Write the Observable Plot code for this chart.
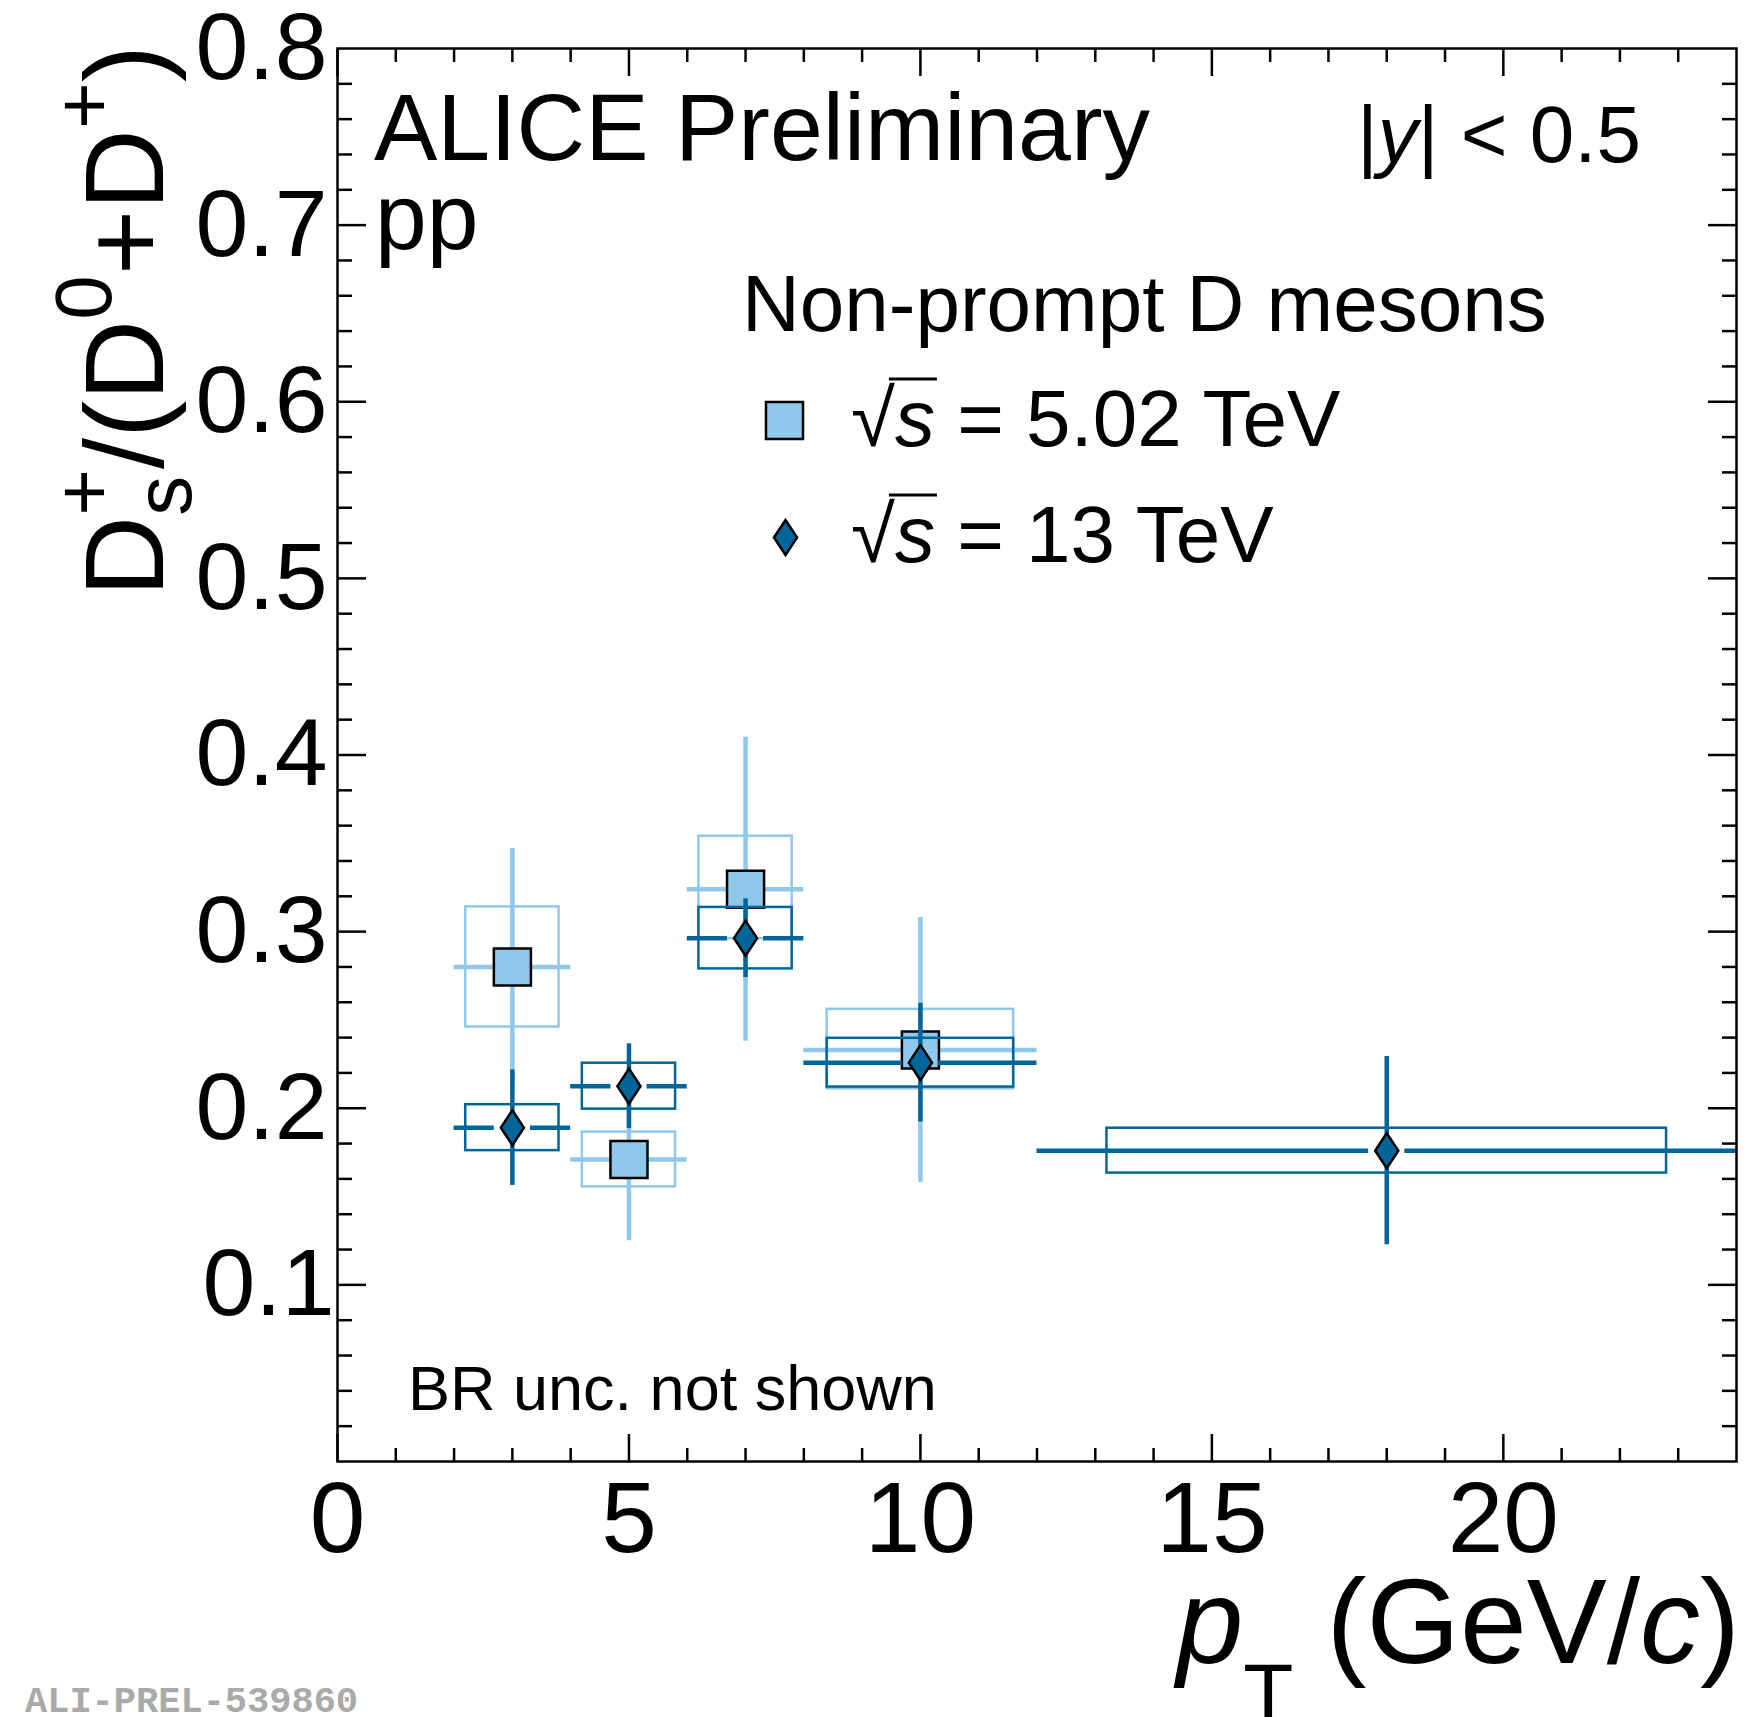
<!DOCTYPE html>
<html><head><meta charset="utf-8">
<script src="https://cdn.jsdelivr.net/npm/d3@7"></script>
<script src="https://cdn.jsdelivr.net/npm/@observablehq/plot@0.6"></script>
<style>
html,body{margin:0;padding:0;background:#fff;}
#chart{width:1762px;height:1717px;}
</style></head><body><div id="chart"></div>
<script>
// ---------------- data ----------------
// sqrt(s) = 5.02 TeV
const binLo502 = [2, 4, 6, 8];
const binHi502 = [4, 6, 8, 12];
const pt502    = [3, 5, 7, 10];
const ratio502 = [0.280, 0.171, 0.324, 0.233];
const stat502  = [0.067, 0.046, 0.086, 0.075];
const sysLo502 = [0.034, 0.0155, 0.028, 0.022];
const sysHi502 = [0.034, 0.0155, 0.030, 0.023];

// sqrt(s) = 13 TeV
const binLo13 = [2, 4, 6, 8, 12];
const binHi13 = [4, 6, 8, 12, 24];
const pt13    = [3, 5, 7, 10, 18];
const ratio13 = [0.189, 0.2125, 0.2963, 0.2258, 0.176];
const stat13  = [0.0327, 0.024, 0.0223, 0.0336, 0.0533];
const sys13   = [0.013, 0.013, 0.0174, 0.0138, 0.0127];

// axes
const xMajorTicks = [0, 5, 10, 15, 20];
const xMinorTicks = [1, 2, 3, 4, 6, 7, 8, 9, 11, 12, 13, 14, 16, 17, 18, 19, 21, 22, 23];
const yMajorTicks = [0.1, 0.2, 0.3, 0.4, 0.5, 0.6, 0.7];
const yMinorTicks = [0.02, 0.04, 0.06, 0.08, 0.12, 0.14, 0.16, 0.18, 0.22, 0.24, 0.26, 0.28,
  0.32, 0.34, 0.36, 0.38, 0.42, 0.44, 0.46, 0.48, 0.52, 0.54, 0.56, 0.58,
  0.62, 0.64, 0.66, 0.68, 0.72, 0.74, 0.76, 0.78];
const xTickLabels = [0, 5, 10, 15, 20];
const yTickLabels = [0.2, 0.3, 0.4, 0.5, 0.6, 0.7, 0.8];
const yTickLabelsLow = [0.1];   // ROOT draws this one nudged towards the axis

// ---------------- styles ----------------
const FONT = "'Liberation Sans', Arial, Helvetica, sans-serif";
const LIGHT = "#8fc8eb";
const DARK = "#006699";
const BAR_GAP = 0.31;      // error-bar gap around marker (x units)
const BOX_FRAC = 0.1;      // systematic box inset as fraction of bin width

const d502 = pt502.map((x, i) => ({x, lo: binLo502[i], hi: binHi502[i], y: ratio502[i],
  stat: stat502[i], sLo: sysLo502[i], sHi: sysHi502[i]}));
const d13 = pt13.map((x, i) => ({x, lo: binLo13[i], hi: binHi13[i], y: ratio13[i],
  stat: stat13[i], sLo: sys13[i], sHi: sys13[i]}));

const diamond = {
  draw(context, size) {
    const r = Math.sqrt(size / Math.PI);
    const w = r * 0.66;
    context.moveTo(0, -r); context.lineTo(w, 0); context.lineTo(0, r); context.lineTo(-w, 0); context.closePath();
  }
};

function seriesMarks(data, color, symbol, r) {
  return [
    Plot.rect(data, {x1: d => d.lo + BOX_FRAC * (d.hi - d.lo), x2: d => d.hi - BOX_FRAC * (d.hi - d.lo),
      y1: d => d.y - d.sLo, y2: d => d.y + d.sHi, fill: "none", stroke: color, strokeWidth: 2.5}),
    Plot.ruleX(data, {x: "x", y1: d => d.y - d.stat, y2: d => d.y + d.stat, stroke: color, strokeWidth: 4.5}),
    Plot.ruleY(data, {y: "y", x1: "lo", x2: d => d.x - BAR_GAP, stroke: color, strokeWidth: 4.5}),
    Plot.ruleY(data, {y: "y", x1: d => d.x + BAR_GAP, x2: "hi", stroke: color, strokeWidth: 4.5}),
    Plot.dot(data, {x: "x", y: "y", symbol, r, fill: color, stroke: "black", strokeWidth: 2.5})
  ];
}

const chart = Plot.plot({
  width: 1762, height: 1717,
  marginLeft: 337, marginRight: 26, marginTop: 48, marginBottom: 256,
  style: {fontFamily: FONT, background: "white", color: "black", overflow: "visible"},
  x: {domain: [0, 24], label: null},
  y: {domain: [0, 0.8], label: null},
  marks: [
    ...seriesMarks(d502, LIGHT, "square", 20.9),
    ...seriesMarks(d13, DARK, diamond, 17.5),
    // legend symbols
    Plot.dot([0], {frameAnchor: "top-left", dx: 447, dy: 372, symbol: "square", r: 20.9, fill: LIGHT, stroke: "black", strokeWidth: 2.5}),
    Plot.dot([0], {frameAnchor: "top-left", dx: 448, dy: 489, symbol: diamond, r: 17.5, fill: DARK, stroke: "black", strokeWidth: 2.5}),
    // ticks (inward, on all four sides)
    Plot.axisX(xMajorTicks, {anchor: "bottom", tickSize: -27, strokeWidth: 2.5, fill: "none", label: null}),
    Plot.axisX(xMinorTicks, {anchor: "bottom", tickSize: -13, strokeWidth: 2.5, fill: "none", label: null}),
    Plot.axisX(xMajorTicks, {anchor: "top", tickSize: -27, strokeWidth: 2.5, fill: "none", label: null}),
    Plot.axisX(xMinorTicks, {anchor: "top", tickSize: -13, strokeWidth: 2.5, fill: "none", label: null}),
    Plot.axisY(yMajorTicks, {anchor: "left", tickSize: -29, strokeWidth: 2.5, fill: "none", label: null}),
    Plot.axisY(yMinorTicks, {anchor: "left", tickSize: -15, strokeWidth: 2.5, fill: "none", label: null}),
    Plot.axisY(yMajorTicks, {anchor: "right", tickSize: -29, strokeWidth: 2.5, fill: "none", label: null}),
    Plot.axisY(yMinorTicks, {anchor: "right", tickSize: -15, strokeWidth: 2.5, fill: "none", label: null}),
    // tick labels
    Plot.axisX(xTickLabels, {anchor: "bottom", tickSize: 0, tickPadding: 19, fontSize: 100, tickFormat: d => String(d), label: null}),
    Plot.axisY(yTickLabels, {anchor: "left", tickSize: 0, tickPadding: 10, fontSize: 95, tickFormat: d => d.toFixed(1), label: null}),
    Plot.axisY(yTickLabelsLow, {anchor: "left", tickSize: 0, tickPadding: 3, fontSize: 95, tickFormat: d => d.toFixed(1), label: null}),
    Plot.frame({stroke: "black", strokeWidth: 2.5})
  ]
});

document.getElementById("chart").appendChild(chart);
const svgEl = chart.tagName.toLowerCase() === "svg" ? chart : chart.querySelector("svg");
const svg = d3.select(svgEl);
const g = svg.append("g").attr("font-family", FONT).attr("fill", "black").attr("text-anchor", "start");

function addText(x, y, size, parts, attrs = {}) {
  const t = g.append("text").attr("x", x).attr("y", y).attr("font-size", size).attr("text-anchor", "start");
  for (const [k, v] of Object.entries(attrs)) t.attr(k, v);
  for (const p of parts) {
    const ts = t.append("tspan").text(p.t);
    if (p.italic) ts.attr("font-style", "italic");
    if (p.size) ts.attr("font-size", p.size);
    if (p.dx) ts.attr("dx", p.dx);
    if (p.dy) ts.attr("dy", p.dy);
  }
  return t;
}

addText(374, 160, 95, [{t: "ALICE Preliminary"}]);
addText(375, 249, 93, [{t: "pp"}]);
addText(1357, 162, 80, [{t: "|"}, {t: "y", italic: true}, {t: "| < 0.5"}]);
addText(742, 331, 80, [{t: "Non-prompt D mesons"}]);
addText(408, 1410, 63, [{t: "BR unc. not shown"}]);

function sqrtS(y, rest) {
  const t = addText(851, y, 80, [{t: "\u221A"}, {t: "s", italic: true}, {t: " = " + rest}]);
  const n = t.node();
  const e0 = n.getExtentOfChar(0), e1 = n.getExtentOfChar(1);
  g.append("line").attr("x1", e0.x + e0.width - 6).attr("x2", e1.x + e1.width + 2)
    .attr("y1", y - 67).attr("y2", y - 67).attr("stroke", "black").attr("stroke-width", 3);
}
sqrtS(446, "5.02 TeV");
sqrtS(562, "13 TeV");

// y-axis title: D_s^+/(D^0+D^+)
addText(0, 0, 112, [
  {t: "D"}, {t: "+", size: 80, dy: -52}, {t: "s", size: 80, dx: -46.7, dy: 80},
  {t: "/(D", dx: 6.7, dy: -28}, {t: "0", size: 80, dy: -52}, {t: "+D", dy: 52},
  {t: "+", size: 80, dy: -52}, {t: ")", dy: 52}
], {transform: "translate(163,45) rotate(-90)", "text-anchor": "end"});

// x-axis title: p_T (GeV/c)
addText(1740, 1663, 120, [
  {t: "p", italic: true}, {t: "T", size: 82, dy: 58}, {t: " (GeV/", dy: -58},
  {t: "c", italic: true}, {t: ")"}
], {"text-anchor": "end"});

addText(25, 1712, 37, [{t: "ALI-PREL-539860"}], {"font-family": "'Liberation Mono', 'Courier New', monospace", "font-weight": "bold", fill: "#aaaaaa"});
</script></body></html>
